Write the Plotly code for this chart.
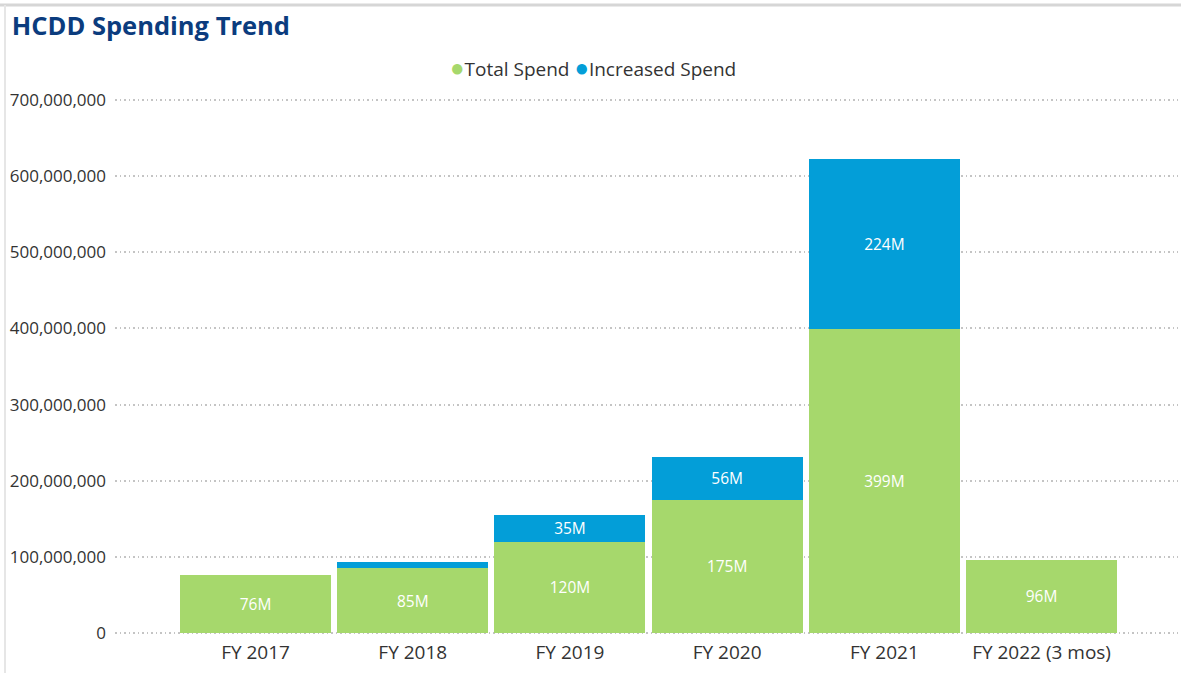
import plotly.graph_objects as go

categories = ["FY 2017", "FY 2018", "FY 2019", "FY 2020", "FY 2021", "FY 2022 (3 mos)"]
total_spend = [76e6, 85e6, 120e6, 175e6, 399e6, 96e6]
increased_spend = [0, 8e6, 35e6, 56e6, 224e6, 0]
total_labels = ["76M", "85M", "120M", "175M", "399M", "96M"]
increased_labels = ["", "", "35M", "56M", "224M", ""]
y_ticks = [0, 100e6, 200e6, 300e6, 400e6, 500e6, 600e6, 700e6]
series_names = ["Total Spend", "Increased Spend"]

GREEN = "#A6D86C"
BLUE = "#039ED8"
FONT = "Open Sans"

fig = go.Figure()
fig.add_trace(go.Bar(
    x=categories, y=total_spend, name=series_names[0], marker_color=GREEN,
    marker_line_width=0, text=total_labels, textposition="inside",
    insidetextanchor="middle", textfont=dict(color="white", size=18, family=FONT),
    showlegend=False, hoverinfo="x+y"))
fig.add_trace(go.Bar(
    x=categories, y=increased_spend, name=series_names[1], marker_color=BLUE,
    marker_line_width=0, text=increased_labels, textposition="inside",
    insidetextanchor="middle", textfont=dict(color="white", size=18, family=FONT),
    showlegend=False, hoverinfo="x+y"))

legend_text = (f"<span style='color:{GREEN};font-size:24px'>●</span>{series_names[0]} "
               f"<span style='color:{BLUE};font-size:24px'>●</span>{series_names[1]}")

fig.update_layout(
    width=1181, height=673,
    barmode="stack", bargap=0.04,
    uniformtext=dict(minsize=8, mode="show"),
    plot_bgcolor="white", paper_bgcolor="white",
    margin=dict(l=115, r=3, t=98, b=38),
    font=dict(family=FONT, color="#333333"),
    showlegend=False,
    title=dict(text="<b>HCDD Spending Trend</b>", x=0.01, xanchor="left",
               y=1 - 26 / 673, yanchor="middle", xref="container", yref="container",
               font=dict(size=25.5, color="#0B3C7E", family=FONT)),
    annotations=[dict(text=legend_text, xref="paper", yref="paper",
                      x=(593 - 115) / 1063, y=1 + 32 / 537, xanchor="center",
                      yanchor="middle", showarrow=False,
                      font=dict(size=19, color="#333333", family=FONT))],
    xaxis=dict(range=[-0.894, 5.868], showgrid=False, showline=False, zeroline=False,
               tickfont=dict(size=19, color="#333333"), ticks="",
               ticklabelstandoff=4),
    yaxis=dict(range=[-2.6e6, 702.6e6], tickvals=y_ticks, tickformat=",",
               showgrid=True, gridcolor="#C4C4C4", griddash="1.5px,3px", gridwidth=1.5,
               zeroline=False, showline=False, ticks="",
               tickfont=dict(size=17, color="#333333"), ticklabelstandoff=8),
    shapes=[
        dict(type="line", xref="paper", yref="paper", x0=-115/1063, x1=1.01,
             y0=1 + 93/537, y1=1 + 93/537, line=dict(color="#D6D6D6", width=3)),
        dict(type="line", xref="paper", yref="paper", x0=-110/1063, x1=-110/1063,
             y0=1 + 93/537, y1=-38/537, line=dict(color="#E6E6E6", width=2)),
    ],
)

fig.write_html("out.html")
